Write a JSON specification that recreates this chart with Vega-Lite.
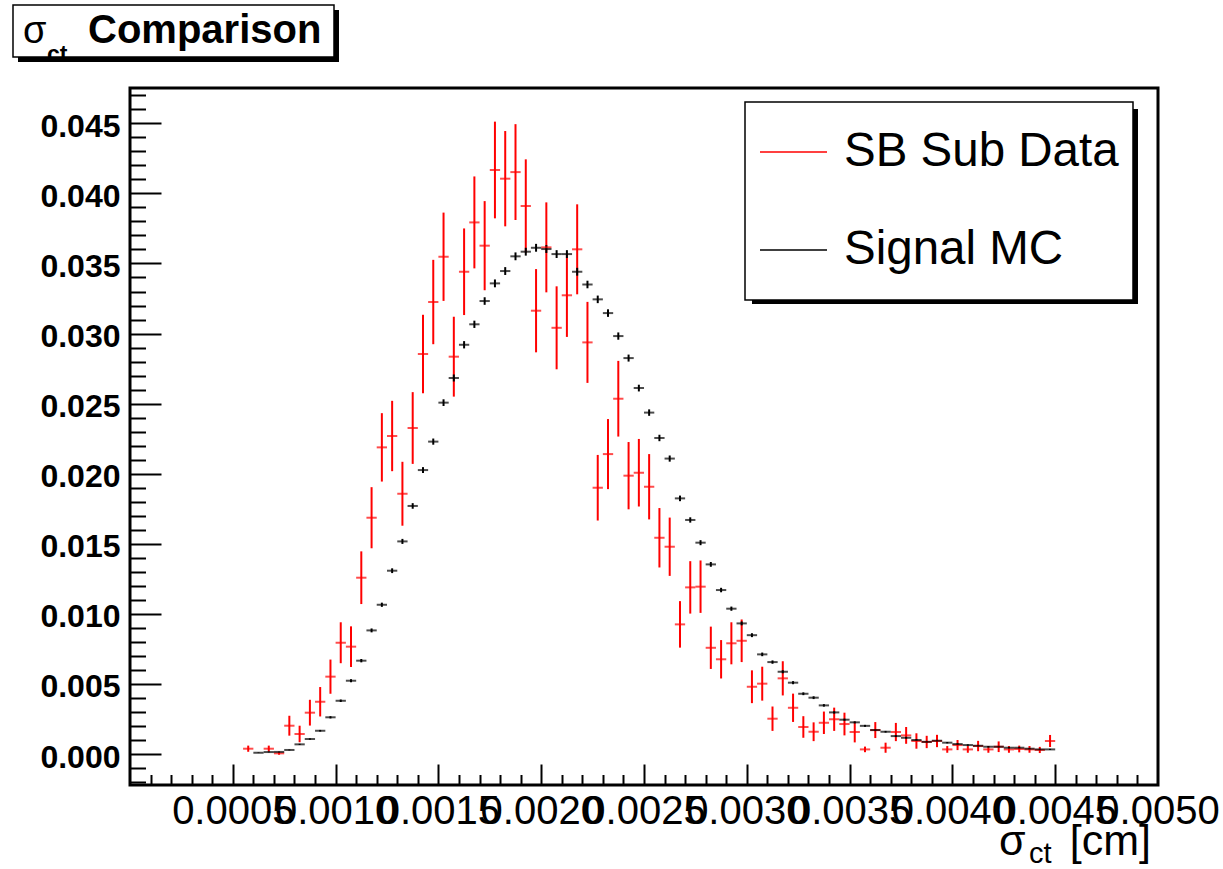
{
  "$schema": "https://vega.github.io/schema/vega-lite/v6.json",
  "width": 1028,
  "height": 697,
  "autosize": {"type": "none"},
  "padding": {"left": 130, "top": 88, "right": 65, "bottom": 84},
  "background": "white",
  "config": {
    "view": {"stroke": "black", "strokeWidth": 3},
    "font": "Liberation Sans",
    "legend": {"strokeWidth": 1.5}
  },
  "data": {"values": [
    {"s":"SB Sub Data","x":0.000575,"v":0.00038,"e":0.00022},
    {"s":"SB Sub Data","x":0.000675,"v":0.00038,"e":0.00022},
    {"s":"SB Sub Data","x":0.000725,"v":0.00005,"e":0.0001},
    {"s":"SB Sub Data","x":0.000775,"v":0.00202,"e":0.00071},
    {"s":"SB Sub Data","x":0.000825,"v":0.00143,"e":0.00059},
    {"s":"SB Sub Data","x":0.000875,"v":0.00295,"e":0.00092},
    {"s":"SB Sub Data","x":0.000925,"v":0.00373,"e":0.00105},
    {"s":"SB Sub Data","x":0.000975,"v":0.00552,"e":0.00122},
    {"s":"SB Sub Data","x":0.001025,"v":0.00794,"e":0.00146},
    {"s":"SB Sub Data","x":0.001075,"v":0.00766,"e":0.00145},
    {"s":"SB Sub Data","x":0.001125,"v":0.01258,"e":0.00188},
    {"s":"SB Sub Data","x":0.001175,"v":0.01686,"e":0.00218},
    {"s":"SB Sub Data","x":0.001225,"v":0.02188,"e":0.00244},
    {"s":"SB Sub Data","x":0.001275,"v":0.02269,"e":0.00251},
    {"s":"SB Sub Data","x":0.001325,"v":0.01857,"e":0.00228},
    {"s":"SB Sub Data","x":0.001375,"v":0.02326,"e":0.00256},
    {"s":"SB Sub Data","x":0.001425,"v":0.02854,"e":0.0028},
    {"s":"SB Sub Data","x":0.001475,"v":0.03225,"e":0.00301},
    {"s":"SB Sub Data","x":0.001525,"v":0.03548,"e":0.00315},
    {"s":"SB Sub Data","x":0.001575,"v":0.02835,"e":0.00285},
    {"s":"SB Sub Data","x":0.001625,"v":0.03441,"e":0.00309},
    {"s":"SB Sub Data","x":0.001675,"v":0.03793,"e":0.00328},
    {"s":"SB Sub Data","x":0.001725,"v":0.03627,"e":0.00318},
    {"s":"SB Sub Data","x":0.001775,"v":0.04167,"e":0.00345},
    {"s":"SB Sub Data","x":0.001825,"v":0.04105,"e":0.0034},
    {"s":"SB Sub Data","x":0.001875,"v":0.04152,"e":0.00342},
    {"s":"SB Sub Data","x":0.001925,"v":0.0391,"e":0.00333},
    {"s":"SB Sub Data","x":0.001975,"v":0.03163,"e":0.00297},
    {"s":"SB Sub Data","x":0.002025,"v":0.03615,"e":0.00321},
    {"s":"SB Sub Data","x":0.002075,"v":0.03041,"e":0.00296},
    {"s":"SB Sub Data","x":0.002125,"v":0.03273,"e":0.00297},
    {"s":"SB Sub Data","x":0.002175,"v":0.03601,"e":0.00321},
    {"s":"SB Sub Data","x":0.002225,"v":0.02937,"e":0.00289},
    {"s":"SB Sub Data","x":0.002275,"v":0.019,"e":0.00234},
    {"s":"SB Sub Data","x":0.002325,"v":0.0214,"e":0.0025},
    {"s":"SB Sub Data","x":0.002375,"v":0.02535,"e":0.0027},
    {"s":"SB Sub Data","x":0.002425,"v":0.01986,"e":0.0024},
    {"s":"SB Sub Data","x":0.002475,"v":0.02007,"e":0.00241},
    {"s":"SB Sub Data","x":0.002525,"v":0.01907,"e":0.00233},
    {"s":"SB Sub Data","x":0.002575,"v":0.01543,"e":0.00212},
    {"s":"SB Sub Data","x":0.002625,"v":0.01479,"e":0.00208},
    {"s":"SB Sub Data","x":0.002675,"v":0.00925,"e":0.00166},
    {"s":"SB Sub Data","x":0.002725,"v":0.01189,"e":0.00187},
    {"s":"SB Sub Data","x":0.002775,"v":0.01194,"e":0.00187},
    {"s":"SB Sub Data","x":0.002825,"v":0.00758,"e":0.00151},
    {"s":"SB Sub Data","x":0.002875,"v":0.00676,"e":0.00137},
    {"s":"SB Sub Data","x":0.002925,"v":0.0079,"e":0.0015},
    {"s":"SB Sub Data","x":0.002975,"v":0.00808,"e":0.00152},
    {"s":"SB Sub Data","x":0.003025,"v":0.0048,"e":0.00117},
    {"s":"SB Sub Data","x":0.003075,"v":0.00502,"e":0.00121},
    {"s":"SB Sub Data","x":0.003125,"v":0.00252,"e":0.00087},
    {"s":"SB Sub Data","x":0.003175,"v":0.0054,"e":0.00122},
    {"s":"SB Sub Data","x":0.003225,"v":0.0033,"e":0.00101},
    {"s":"SB Sub Data","x":0.003275,"v":0.00193,"e":0.00077},
    {"s":"SB Sub Data","x":0.003325,"v":0.00159,"e":0.00067},
    {"s":"SB Sub Data","x":0.003375,"v":0.00223,"e":0.0008},
    {"s":"SB Sub Data","x":0.003425,"v":0.00248,"e":0.00083},
    {"s":"SB Sub Data","x":0.003475,"v":0.00214,"e":0.00081},
    {"s":"SB Sub Data","x":0.003525,"v":0.00157,"e":0.00074},
    {"s":"SB Sub Data","x":0.003575,"v":0.00033,"e":0.0002},
    {"s":"SB Sub Data","x":0.003625,"v":0.00171,"e":0.00057},
    {"s":"SB Sub Data","x":0.003675,"v":0.00045,"e":0.00036},
    {"s":"SB Sub Data","x":0.003725,"v":0.00157,"e":0.00065},
    {"s":"SB Sub Data","x":0.003775,"v":0.00133,"e":0.0006},
    {"s":"SB Sub Data","x":0.003825,"v":0.00093,"e":0.00055},
    {"s":"SB Sub Data","x":0.003875,"v":0.00086,"e":0.00044},
    {"s":"SB Sub Data","x":0.003925,"v":0.00093,"e":0.00044},
    {"s":"SB Sub Data","x":0.003975,"v":0.00033,"e":0.00024},
    {"s":"SB Sub Data","x":0.004025,"v":0.00064,"e":0.00036},
    {"s":"SB Sub Data","x":0.004075,"v":0.00033,"e":0.00024},
    {"s":"SB Sub Data","x":0.004125,"v":0.00057,"e":0.00037},
    {"s":"SB Sub Data","x":0.004175,"v":0.00033,"e":0.00024},
    {"s":"SB Sub Data","x":0.004225,"v":0.00052,"e":0.00038},
    {"s":"SB Sub Data","x":0.004275,"v":0.00033,"e":0.00024},
    {"s":"SB Sub Data","x":0.004325,"v":0.00036,"e":0.00024},
    {"s":"SB Sub Data","x":0.004375,"v":0.00033,"e":0.00024},
    {"s":"SB Sub Data","x":0.004425,"v":0.00029,"e":0.00022},
    {"s":"SB Sub Data","x":0.004475,"v":0.00093,"e":0.00043},
    {"s":"Signal MC","x":0.000625,"v":0.00009,"e":0.00002},
    {"s":"Signal MC","x":0.000675,"v":0.00014,"e":0.00002},
    {"s":"Signal MC","x":0.000725,"v":0.00015,"e":0.00002},
    {"s":"Signal MC","x":0.000775,"v":0.00029,"e":0.00003},
    {"s":"Signal MC","x":0.000825,"v":0.00069,"e":0.00004},
    {"s":"Signal MC","x":0.000875,"v":0.00107,"e":0.00005},
    {"s":"Signal MC","x":0.000925,"v":0.00166,"e":0.00006},
    {"s":"Signal MC","x":0.000975,"v":0.00262,"e":0.00008},
    {"s":"Signal MC","x":0.001025,"v":0.0038,"e":0.00009},
    {"s":"Signal MC","x":0.001075,"v":0.00523,"e":0.00011},
    {"s":"Signal MC","x":0.001125,"v":0.00666,"e":0.00012},
    {"s":"Signal MC","x":0.001175,"v":0.00882,"e":0.00014},
    {"s":"Signal MC","x":0.001225,"v":0.01065,"e":0.00015},
    {"s":"Signal MC","x":0.001275,"v":0.01308,"e":0.00017},
    {"s":"Signal MC","x":0.001325,"v":0.01517,"e":0.00018},
    {"s":"Signal MC","x":0.001375,"v":0.0177,"e":0.0002},
    {"s":"Signal MC","x":0.001425,"v":0.02026,"e":0.00021},
    {"s":"Signal MC","x":0.001475,"v":0.02229,"e":0.00022},
    {"s":"Signal MC","x":0.001525,"v":0.02507,"e":0.00024},
    {"s":"Signal MC","x":0.001575,"v":0.02683,"e":0.00025},
    {"s":"Signal MC","x":0.001625,"v":0.0292,"e":0.00026},
    {"s":"Signal MC","x":0.001675,"v":0.03066,"e":0.00026},
    {"s":"Signal MC","x":0.001725,"v":0.03232,"e":0.00027},
    {"s":"Signal MC","x":0.001775,"v":0.03358,"e":0.00028},
    {"s":"Signal MC","x":0.001825,"v":0.03446,"e":0.00028},
    {"s":"Signal MC","x":0.001875,"v":0.03551,"e":0.00028},
    {"s":"Signal MC","x":0.001925,"v":0.03584,"e":0.00028},
    {"s":"Signal MC","x":0.001975,"v":0.03612,"e":0.00028},
    {"s":"Signal MC","x":0.002025,"v":0.03603,"e":0.00028},
    {"s":"Signal MC","x":0.002075,"v":0.03567,"e":0.00028},
    {"s":"Signal MC","x":0.002125,"v":0.03567,"e":0.00028},
    {"s":"Signal MC","x":0.002175,"v":0.03441,"e":0.00028},
    {"s":"Signal MC","x":0.002225,"v":0.0335,"e":0.00027},
    {"s":"Signal MC","x":0.002275,"v":0.03244,"e":0.00027},
    {"s":"Signal MC","x":0.002325,"v":0.03146,"e":0.00027},
    {"s":"Signal MC","x":0.002375,"v":0.02982,"e":0.00026},
    {"s":"Signal MC","x":0.002425,"v":0.02825,"e":0.00025},
    {"s":"Signal MC","x":0.002475,"v":0.02611,"e":0.00024},
    {"s":"Signal MC","x":0.002525,"v":0.02436,"e":0.00023},
    {"s":"Signal MC","x":0.002575,"v":0.02255,"e":0.00023},
    {"s":"Signal MC","x":0.002625,"v":0.02108,"e":0.00022},
    {"s":"Signal MC","x":0.002675,"v":0.01824,"e":0.0002},
    {"s":"Signal MC","x":0.002725,"v":0.0167,"e":0.00019},
    {"s":"Signal MC","x":0.002775,"v":0.01508,"e":0.00018},
    {"s":"Signal MC","x":0.002825,"v":0.01353,"e":0.00017},
    {"s":"Signal MC","x":0.002875,"v":0.0117,"e":0.00016},
    {"s":"Signal MC","x":0.002925,"v":0.01037,"e":0.00015},
    {"s":"Signal MC","x":0.002975,"v":0.00932,"e":0.00014},
    {"s":"Signal MC","x":0.003025,"v":0.00848,"e":0.00014},
    {"s":"Signal MC","x":0.003075,"v":0.00711,"e":0.00013},
    {"s":"Signal MC","x":0.003125,"v":0.00656,"e":0.00012},
    {"s":"Signal MC","x":0.003175,"v":0.00587,"e":0.00011},
    {"s":"Signal MC","x":0.003225,"v":0.00509,"e":0.00011},
    {"s":"Signal MC","x":0.003275,"v":0.0043,"e":0.0001},
    {"s":"Signal MC","x":0.003325,"v":0.00402,"e":0.0001},
    {"s":"Signal MC","x":0.003375,"v":0.00347,"e":0.00009},
    {"s":"Signal MC","x":0.003425,"v":0.00297,"e":0.00008},
    {"s":"Signal MC","x":0.003475,"v":0.00245,"e":0.00007},
    {"s":"Signal MC","x":0.003525,"v":0.00226,"e":0.00007},
    {"s":"Signal MC","x":0.003575,"v":0.00201,"e":0.00007},
    {"s":"Signal MC","x":0.003625,"v":0.00171,"e":0.00007},
    {"s":"Signal MC","x":0.003675,"v":0.00159,"e":0.00006},
    {"s":"Signal MC","x":0.003725,"v":0.00128,"e":0.00006},
    {"s":"Signal MC","x":0.003775,"v":0.00116,"e":0.00006},
    {"s":"Signal MC","x":0.003825,"v":0.001,"e":0.00006},
    {"s":"Signal MC","x":0.003875,"v":0.00087,"e":0.00005},
    {"s":"Signal MC","x":0.003925,"v":0.00095,"e":0.00005},
    {"s":"Signal MC","x":0.003975,"v":0.00081,"e":0.00005},
    {"s":"Signal MC","x":0.004025,"v":0.00071,"e":0.00005},
    {"s":"Signal MC","x":0.004075,"v":0.00064,"e":0.00005},
    {"s":"Signal MC","x":0.004125,"v":0.00059,"e":0.00005},
    {"s":"Signal MC","x":0.004175,"v":0.00052,"e":0.00004},
    {"s":"Signal MC","x":0.004225,"v":0.00052,"e":0.00004},
    {"s":"Signal MC","x":0.004275,"v":0.00045,"e":0.00004},
    {"s":"Signal MC","x":0.004325,"v":0.00045,"e":0.00004},
    {"s":"Signal MC","x":0.004375,"v":0.00038,"e":0.00004},
    {"s":"Signal MC","x":0.004425,"v":0.00033,"e":0.00004},
    {"s":"Signal MC","x":0.004475,"v":0.00033,"e":0.00004}
  ]},
  "resolve": {"axis": {"x": "independent", "y": "independent"}},
  "layer": [
    {
      "data": {"values": [{}]},
      "mark": {"type": "rect", "color": "black"},
      "encoding": {
        "x": {"datum": -0.00054475, "type": "quantitative", "scale": {"domain": [0, 0.005], "nice": false, "zero": false}, "axis": null},
        "x2": {"datum": 0.0010165},
        "y": {"datum": 0.053082, "type": "quantitative", "scale": {"domain": [-0.00221, 0.04752], "nice": false, "zero": false}, "axis": null},
        "y2": {"datum": 0.049372}
      }
    },
    {
      "data": {"values": [{}]},
      "mark": {"type": "rect", "fill": "white", "stroke": "black", "strokeWidth": 1.5},
      "encoding": {
        "x": {"datum": -0.00056907, "type": "quantitative", "scale": {"domain": [0, 0.005], "nice": false, "zero": false}, "axis": null},
        "x2": {"datum": 0.00099222},
        "y": {"datum": 0.053439, "type": "quantitative", "scale": {"domain": [-0.00221, 0.04752], "nice": false, "zero": false}, "axis": null},
        "y2": {"datum": 0.049729}
      }
    },
    {
      "data": {"values": [{}]},
      "mark": {"type": "text", "text": "σ", "font": "Liberation Sans", "fontSize": 38, "align": "left", "baseline": "alphabetic", "color": "black"},
      "encoding": {
        "x": {"datum": -0.00052043, "type": "quantitative", "scale": {"domain": [0, 0.005], "nice": false, "zero": false}, "axis": null},
        "y": {"datum": 0.050728, "type": "quantitative", "scale": {"domain": [-0.00221, 0.04752], "nice": false, "zero": false}, "axis": null}
      }
    },
    {
      "data": {"values": [{}]},
      "mark": {"type": "text", "text": "ct", "font": "Liberation Sans", "fontWeight": "bold", "fontSize": 23, "align": "left", "baseline": "alphabetic", "color": "black"},
      "encoding": {
        "x": {"datum": -0.0004037, "type": "quantitative", "scale": {"domain": [0, 0.005], "nice": false, "zero": false}, "axis": null},
        "y": {"datum": 0.0494, "type": "quantitative", "scale": {"domain": [-0.00221, 0.04752], "nice": false, "zero": false}, "axis": null}
      }
    },
    {
      "data": {"values": [{}]},
      "mark": {"type": "text", "text": "Comparison", "font": "Liberation Sans", "fontWeight": "bold", "fontSize": 40, "align": "left", "baseline": "alphabetic", "color": "black"},
      "encoding": {
        "x": {"datum": -0.00020428, "type": "quantitative", "scale": {"domain": [0, 0.005], "nice": false, "zero": false}, "axis": null},
        "y": {"datum": 0.050707, "type": "quantitative", "scale": {"domain": [-0.00221, 0.04752], "nice": false, "zero": false}, "axis": null}
      }
    },
    {
      "data": {"values": [{}]},
      "mark": {"type": "text", "text": "σ", "font": "Liberation Sans", "fontSize": 43, "align": "left", "baseline": "alphabetic", "color": "black"},
      "encoding": {
        "x": {"datum": 0.0042267, "type": "quantitative", "scale": {"domain": [0, 0.005], "nice": false, "zero": false}, "axis": null},
        "y": {"datum": -0.007206, "type": "quantitative", "scale": {"domain": [-0.00221, 0.04752], "nice": false, "zero": false}, "axis": null}
      }
    },
    {
      "data": {"values": [{}]},
      "mark": {"type": "text", "text": "ct", "font": "Liberation Sans", "fontSize": 29, "align": "left", "baseline": "alphabetic", "color": "black"},
      "encoding": {
        "x": {"datum": 0.0043726, "type": "quantitative", "scale": {"domain": [0, 0.005], "nice": false, "zero": false}, "axis": null},
        "y": {"datum": -0.00774, "type": "quantitative", "scale": {"domain": [-0.00221, 0.04752], "nice": false, "zero": false}, "axis": null}
      }
    },
    {
      "data": {"values": [{}]},
      "mark": {"type": "text", "text": "[cm]", "font": "Liberation Sans", "fontSize": 43, "align": "right", "baseline": "alphabetic", "color": "black"},
      "encoding": {
        "x": {"datum": 0.004966, "type": "quantitative", "scale": {"domain": [0, 0.005], "nice": false, "zero": false}, "axis": null},
        "y": {"datum": -0.007206, "type": "quantitative", "scale": {"domain": [-0.00221, 0.04752], "nice": false, "zero": false}, "axis": null}
      }
    },
    {
      "data": {"values": [{}]},
      "mark": {"type": "rect", "color": "black"},
      "encoding": {
        "x": {"datum": 0.0030253, "type": "quantitative", "scale": {"domain": [0, 0.005], "nice": false, "zero": false},
              "axis": {"orient": "bottom", "values": [0.0001,0.0002,0.0003,0.0004,0.0006,0.0007,0.0008,0.0009,0.0011,0.0012,0.0013,0.0014,0.0016,0.0017,0.0018,0.0019,0.0021,0.0022,0.0023,0.0024,0.0026,0.0027,0.0028,0.0029,0.0031,0.0032,0.0033,0.0034,0.0036,0.0037,0.0038,0.0039,0.0041,0.0042,0.0043,0.0044,0.0046,0.0047,0.0048,0.0049], "labels": false, "domain": false, "grid": false, "ticks": true, "tickSize": -10.5, "tickWidth": 2, "tickColor": "black", "title": null}},
        "x2": {"datum": 0.0049027},
        "y": {"datum": 0.046019, "type": "quantitative", "scale": {"domain": [-0.00221, 0.04752], "nice": false, "zero": false},
              "axis": {"orient": "left", "values": [-0.002,-0.001,0.001,0.002,0.003,0.004,0.006,0.007,0.008,0.009,0.011,0.012,0.013,0.014,0.016,0.017,0.018,0.019,0.021,0.022,0.023,0.024,0.026,0.027,0.028,0.029,0.031,0.032,0.033,0.034,0.036,0.037,0.038,0.039,0.041,0.042,0.043,0.044,0.046,0.047], "labels": false, "domain": false, "grid": false, "ticks": true, "tickSize": -15.5, "tickWidth": 2, "tickColor": "black", "title": null}},
        "y2": {"datum": 0.032106}
      }
    },
    {
      "mark": {"type": "errorbar", "thickness": 2},
      "encoding": {
        "x": {"field": "x", "type": "quantitative", "scale": {"domain": [0, 0.005], "nice": false, "zero": false},
              "axis": {"orient": "bottom", "values": [0.0005,0.001,0.0015,0.002,0.0025,0.003,0.0035,0.004,0.0045,0.005], "format": ".4f", "ticks": false, "domain": false, "grid": false, "labelFont": "Liberation Sans", "labelFontSize": 40, "labelColor": "black", "labelPadding": 6, "labelOverlap": false, "labelFlush": false, "labelBound": false, "title": null}},
        "y": {"field": "v", "type": "quantitative", "scale": {"domain": [-0.00221, 0.04752], "nice": false, "zero": false},
              "axis": {"orient": "left", "values": [0,0.005,0.01,0.015,0.02,0.025,0.03,0.035,0.04,0.045], "format": ".3f", "ticks": false, "domain": false, "grid": false, "labelFont": "Liberation Sans", "labelFontWeight": "bold", "labelFontSize": 32, "labelColor": "black", "labelPadding": 10, "labelOffset": 3, "labelOverlap": false, "labelFlush": false, "labelBound": false, "title": null}},
        "yError": {"field": "e"},
        "color": {"field": "s", "type": "nominal", "scale": {"domain": ["SB Sub Data", "Signal MC"], "range": ["#ff0000", "#000000"]},
                  "legend": {"title": null, "orient": "none", "legendX": 615, "legendY": 14, "padding": 14, "strokeColor": "black", "fillColor": "white", "cornerRadius": 0, "symbolType": "stroke", "symbolSize": 4489, "symbolStrokeWidth": 1.5, "labelFont": "Liberation Sans", "labelFontSize": 47.5, "labelColor": "black", "labelOffset": 16, "rowPadding": 26, "clipHeight": 72, "labelLimit": 0}}
      }
    },
    {
      "mark": {"type": "tick", "orient": "horizontal", "size": 10.3, "thickness": 2},
      "encoding": {
        "x": {"field": "x", "type": "quantitative", "scale": {"domain": [0, 0.005], "nice": false, "zero": false},
              "axis": {"orient": "bottom", "values": [0.0005,0.001,0.0015,0.002,0.0025,0.003,0.0035,0.004,0.0045], "labels": false, "domain": false, "grid": false, "ticks": true, "tickSize": -21, "tickWidth": 2, "tickColor": "black", "title": null}},
        "y": {"field": "v", "type": "quantitative", "scale": {"domain": [-0.00221, 0.04752], "nice": false, "zero": false},
              "axis": {"orient": "left", "values": [0,0.005,0.01,0.015,0.02,0.025,0.03,0.035,0.04,0.045], "labels": false, "domain": false, "grid": false, "ticks": true, "tickSize": -31, "tickWidth": 2, "tickColor": "black", "title": null}},
        "color": {"field": "s", "type": "nominal", "scale": {"domain": ["SB Sub Data", "Signal MC"], "range": ["#ff0000", "#000000"]}, "legend": null}
      }
    }
  ]
}
